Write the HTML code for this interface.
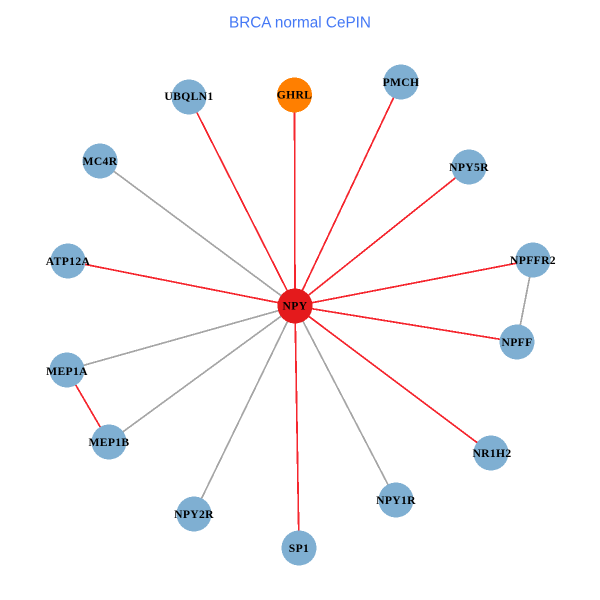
<!DOCTYPE html>
<html>
<head>
<meta charset="utf-8">
<style>
html,body{margin:0;padding:0;background:#fff;width:600px;height:600px;overflow:hidden}
svg{display:block}
.n{font-family:"Liberation Serif",serif;font-weight:bold;font-size:11.6px;fill:#000;text-anchor:middle;letter-spacing:.35px}
</style>
</head>
<body>
<svg width="600" height="600" viewBox="0 0 600 600" xmlns="http://www.w3.org/2000/svg">
<rect width="600" height="600" fill="#fff"/>
<text x="300" y="27.500" text-anchor="middle" font-family="Liberation Sans, sans-serif" font-size="15.300" fill="#4478f5">BRCA normal CePIN</text>
<g stroke="#a6a6a6" stroke-width="1.7" fill="none" shape-rendering="crispEdges">
<line x1="295" y1="306" x2="100" y2="161"/>
<line x1="295" y1="306" x2="67" y2="370"/>
<line x1="295" y1="306" x2="109" y2="442"/>
<line x1="295" y1="306" x2="194" y2="514"/>
<line x1="295" y1="306" x2="396" y2="500"/>
<line x1="533" y1="260" x2="517" y2="342"/>
</g>
<g stroke="#f5262e" stroke-width="1.7" fill="none" shape-rendering="crispEdges">
<line x1="295" y1="306" x2="189" y2="97"/>
<line x1="295" y1="306" x2="294.5" y2="95"/>
<line x1="295" y1="306" x2="401" y2="82"/>
<line x1="295" y1="306" x2="469" y2="167"/>
<line x1="295" y1="306" x2="533" y2="260"/>
<line x1="295" y1="306" x2="68" y2="261"/>
<line x1="295" y1="306" x2="517" y2="342"/>
<line x1="295" y1="306" x2="491" y2="453"/>
<line x1="295" y1="306" x2="299" y2="548"/>
<line x1="67" y1="370" x2="109" y2="442"/>
</g>
<g fill="#7fafd2" shape-rendering="crispEdges">
<circle cx="189" cy="97" r="17.5"/>
<circle cx="401" cy="82" r="17.5"/>
<circle cx="469" cy="167" r="17.5"/>
<circle cx="100" cy="161" r="17.5"/>
<circle cx="533" cy="260" r="17.5"/>
<circle cx="68" cy="261" r="17.5"/>
<circle cx="517" cy="342" r="17.5"/>
<circle cx="67" cy="370" r="17.5"/>
<circle cx="109" cy="442" r="17.5"/>
<circle cx="491" cy="453" r="17.5"/>
<circle cx="396" cy="500" r="17.5"/>
<circle cx="194" cy="514" r="17.5"/>
<circle cx="299" cy="548" r="17.5"/>
</g>
<circle cx="294.5" cy="95" r="17.5" fill="#ff7f00" shape-rendering="crispEdges"/>
<circle cx="295" cy="306" r="17.5" fill="#e41a1c" shape-rendering="crispEdges"/>
<text class="n" x="189" y="100">UBQLN1</text>
<text class="n" x="294.5" y="98.500">GHRL</text>
<text class="n" x="401" y="86">PMCH</text>
<text class="n" x="469" y="171">NPY5R</text>
<text class="n" x="100" y="165">MC4R</text>
<text class="n" x="533" y="264">NPFFR2</text>
<text class="n" x="68" y="265">ATP12A</text>
<text class="n" x="295" y="309.500">NPY</text>
<text class="n" x="517" y="346">NPFF</text>
<text class="n" x="67" y="375">MEP1A</text>
<text class="n" x="109" y="446">MEP1B</text>
<text class="n" x="492" y="457">NR1H2</text>
<text class="n" x="396" y="504">NPY1R</text>
<text class="n" x="194" y="518">NPY2R</text>
<text class="n" x="299" y="552">SP1</text>
</svg>
</body>
</html>
